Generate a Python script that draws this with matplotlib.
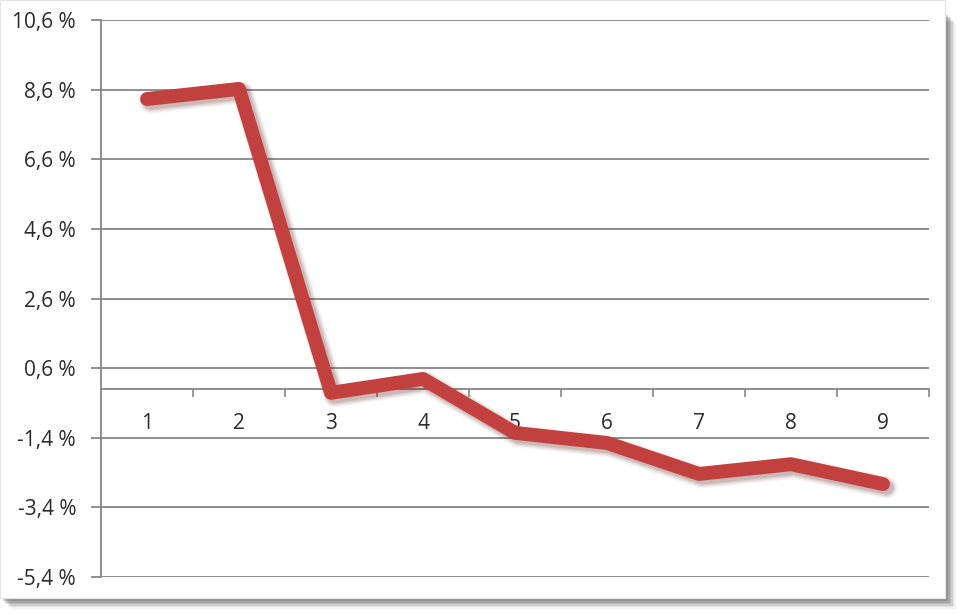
import matplotlib.pyplot as plt
import matplotlib.patheffects as pe
from matplotlib.patches import Rectangle

categories = [1, 2, 3, 4, 5, 6, 7, 8, 9]
values = [8.33, 8.62, -0.11, 0.29, -1.26, -1.55, -2.44, -2.16, -2.73]
y_ticks = [-5.4, -3.4, -1.4, 0.6, 2.6, 4.6, 6.6, 8.6, 10.6]
y_labels = ['-5,4 %', '-3,4 %', '-1,4 %', '0,6 %', '2,6 %', '4,6 %', '6,6 %', '8,6 %', '10,6 %']

plt.rcParams['font.family'] = ['Open Sans', 'DejaVu Sans']

W, H = 960, 614
fig = plt.figure(figsize=(9.6, 6.14), dpi=100)
fig.patch.set_facecolor('white')

# card shadow (right and bottom), then white card
for i, a in enumerate([0.08, 0.12, 0.16, 0.2, 0.25, 0.3]):
    off = 11 - i * 1.6
    fig.patches.append(Rectangle((off / W, (H - 598 - off) / H), 945 / W, (598 - 12) / H,
                                 transform=fig.transFigure, facecolor='#6a6a6a', alpha=a,
                                 edgecolor='none', zorder=0))
fig.patches.append(Rectangle((0, (H - 598) / H), 945 / W, 598 / H, transform=fig.transFigure,
                             facecolor='white', edgecolor='#e4e4e4', lw=0.8, zorder=1))

ax = fig.add_axes([101 / W, 1 - 577 / H, 828 / W, 557 / H])
ax.set_zorder(5)
ax.set_facecolor('none')
ax.set_xlim(0.5, 9.5)
ax.set_ylim(-5.4, 10.6)

grid_c = '#868686'
ax.set_yticks(y_ticks)
ax.set_yticklabels(y_labels)
for y in y_ticks:
    ax.axhline(y, color=grid_c, lw=1.3, zorder=1)

for s in ['top', 'right']:
    ax.spines[s].set_visible(False)
ax.spines['left'].set_color(grid_c)
ax.spines['left'].set_linewidth(1.3)
ax.spines['bottom'].set_position(('data', 0))
ax.spines['bottom'].set_color(grid_c)
ax.spines['bottom'].set_linewidth(1.3)

ax.tick_params(axis='y', length=7, width=1.3, color=grid_c, pad=11, labelsize=15, labelcolor='#2a2a2a')
ax.set_xticks([b + 0.5 for b in categories])
ax.set_xticklabels([])
ax.set_xticks(categories, minor=True)
ax.set_xticklabels([str(c) for c in categories], minor=True)
ax.tick_params(axis='x', which='major', direction='out', length=6, width=1.2, color=grid_c)
ax.tick_params(axis='x', which='minor', length=0, pad=17, labelsize=15, labelcolor='#2a2a2a')

# soft blurred shadow made of a few wide, faint strokes
shadow = [pe.Stroke(offset=(2.5, -2.5), linewidth=lw, foreground='#5a1a1a', alpha=a)
          for lw, a in [(16, 0.05), (14, 0.07), (12, 0.1), (10, 0.12)]]
ax.plot(categories, values, color='#c2403d', lw=10, solid_capstyle='round',
        solid_joinstyle='round', zorder=3,
        path_effects=shadow + [pe.Normal()])

fig.savefig('out.png', dpi=100)
